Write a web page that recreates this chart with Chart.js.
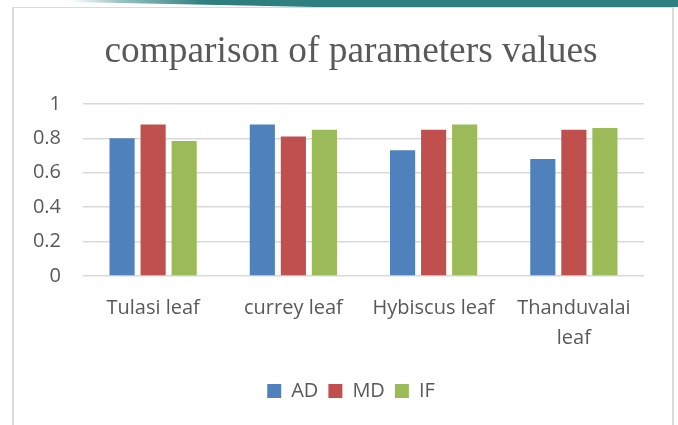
<!DOCTYPE html>
<html>
<head>
<meta charset="utf-8">
<script src="https://cdn.jsdelivr.net/npm/chart.js@4"></script>
<style>
  html, body { margin: 0; padding: 0; background: #fff; }
  body { width: 678px; height: 425px; position: relative; overflow: hidden; }
  .band {
    position: absolute; left: 70px; top: 0; width: 608px; height: 7px;
    background: linear-gradient(to right, #ffffff 0%, #9cc4c4 8%, #2e8080 22%, #2e8080 100%);
    clip-path: polygon(0 0, 100% 0, 100% 100%, 40% 100%, 0 30%);
  }
  .frame {
    position: absolute; left: 12px; top: 7px; width: 662px; height: 425px;
    border: 2px solid #dadada; border-top-width: 1px; box-sizing: border-box;
  }
  #wrap { position: absolute; left: 14px; top: 9px; width: 658px; height: 416px; }
</style>
</head>
<body>
<div class="band"></div>
<div class="frame"></div>
<div id="wrap"><canvas id="chart"></canvas></div>
<script>
const CATEGORIES = ["Tulasi leaf", "currey leaf", "Hybiscus leaf", ["Thanduvalai", "leaf"]];
const AD = [0.80, 0.88, 0.73, 0.68];
const MD = [0.88, 0.81, 0.85, 0.85];
const IF = [0.785, 0.85, 0.88, 0.86];
const Y_TICKS = [0, 0.2, 0.4, 0.6, 0.8, 1];

const TEXT = "#595959";
const GRID = "#d9d9d9";
const FONT = "'Open Sans', sans-serif";

new Chart(document.getElementById("chart"), {
  type: "bar",
  data: {
    labels: CATEGORIES,
    datasets: [
      { label: "AD", data: AD, backgroundColor: "#4f81bd" },
      { label: "MD", data: MD, backgroundColor: "#c0504d" },
      { label: "IF", data: IF, backgroundColor: "#9bbb59" }
    ]
  },
  options: {
    responsive: true,
    maintainAspectRatio: false,
    animation: false,
    categoryPercentage: 0.664,
    barPercentage: 0.81,
    layout: { padding: { left: 44, right: 28, top: 21, bottom: 14 } },
    plugins: {
      title: {
        display: true,
        text: "comparison of parameters values",
        color: TEXT,
        font: { family: "'Liberation Serif', 'DejaVu Serif', serif", size: 37.4, weight: "normal", lineHeight: 1.2 },
        padding: { top: 0, bottom: 29 }
      },
      legend: {
        position: "bottom",
        labels: {
          color: TEXT,
          font: { family: FONT, size: 20 },
          boxWidth: 14,
          boxHeight: 14,
          padding: 10
        }
      },
      tooltip: { enabled: false }
    },
    scales: {
      x: {
        grid: { display: false, drawTicks: false },
        border: { display: false },
        ticks: {
          color: TEXT,
          font: { family: FONT, size: 20, lineHeight: 1.5 },
          padding: 17,
          maxRotation: 0,
          autoSkip: false
        },
        afterFit: (axis) => { axis.height += 1; }
      },
      y: {
        min: 0,
        max: 1,
        afterBuildTicks: (axis) => { axis.ticks = Y_TICKS.map(v => ({ value: v })); },
        afterFit: (axis) => {
          // narrow axis box so the plot starts where it does in the original,
          // and let the labels spill past it instead of being clipped
          axis.width = 25;
          axis._computeLabelArea = () => null;
        },
        grid: { color: GRID, lineWidth: 1.5, drawTicks: false },
        border: { display: false },
        ticks: {
          color: TEXT,
          font: { family: FONT, size: 20 },
          padding: 22,
          callback: (v) => String(v)
        }
      }
    }
  }
});
</script>
</body>
</html>
